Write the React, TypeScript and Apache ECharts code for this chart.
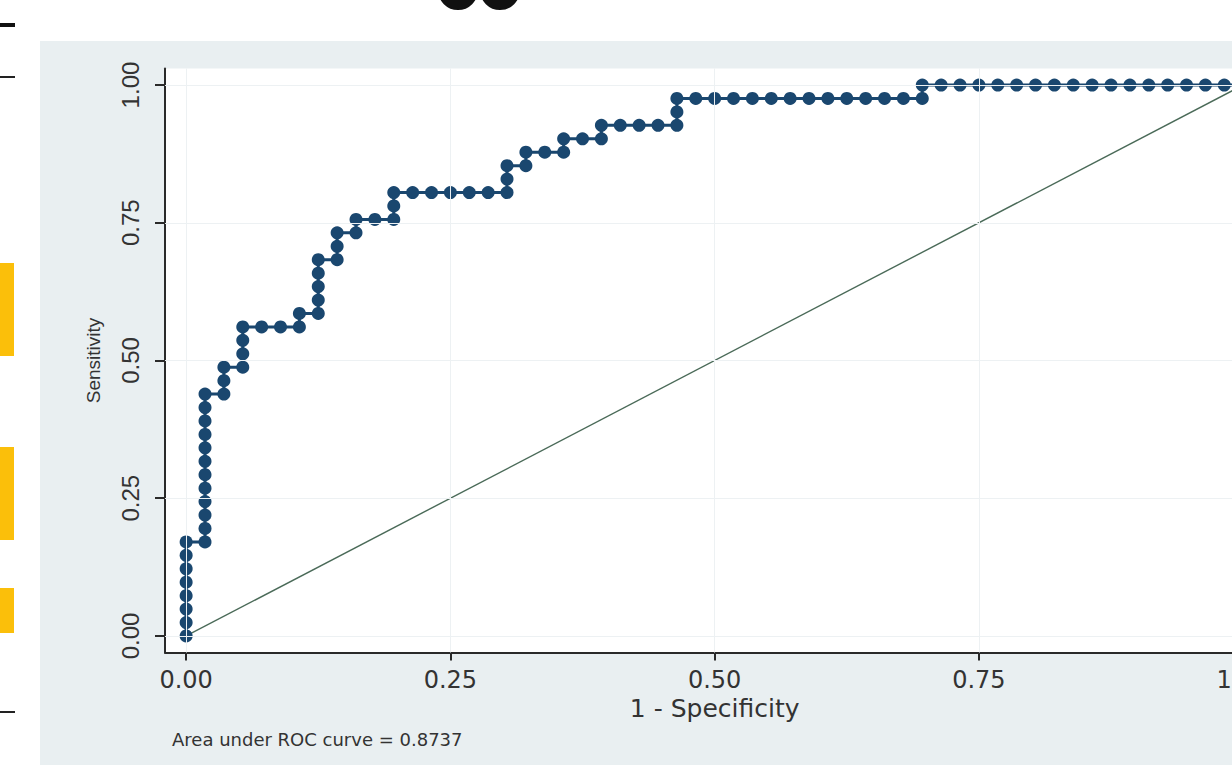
import React, { useEffect, useRef } from "react";
import * as echarts from "echarts";

// ROC step points: counts of false positives (of 56 negatives)
// and true positives (of 41 positives) at each cut-off marker.
const nNegatives = 56;
const nPositives = 41;

const falsePositiveCounts = [
  0, 0, 0, 0, 0, 0, 0, 0,
  1, 1, 1, 1, 1, 1, 1, 1, 1, 1, 1, 1,
  2, 2, 2,
  3, 3, 3, 3,
  4, 5, 6,
  6,
  7, 7, 7, 7, 7,
  8, 8, 8,
  9, 9,
  10, 11,
  11, 11,
  12, 13, 14, 15, 16, 17,
  17, 17,
  18, 18,
  19, 20,
  20,
  21, 22,
  22,
  23, 24, 25, 26,
  26, 26,
  27, 28, 29, 30, 31, 32, 33, 34, 35, 36, 37, 38, 39,
  39,
  40, 41, 42, 43, 44, 45, 46, 47, 48, 49, 50, 51, 52, 53, 54, 55, 56,
];

const truePositiveCounts = [
  0, 1, 2, 3, 4, 5, 6, 7,
  7, 8, 9, 10, 11, 12, 13, 14, 15, 16, 17, 18,
  18, 19, 20,
  20, 21, 22, 23,
  23, 23, 23,
  24,
  24, 25, 26, 27, 28,
  28, 29, 30,
  30, 31,
  31, 31,
  32, 33,
  33, 33, 33, 33, 33, 33,
  34, 35,
  35, 36,
  36, 36,
  37,
  37, 37,
  38,
  38, 38, 38, 38,
  39, 40,
  40, 40, 40, 40, 40, 40, 40, 40, 40, 40, 40, 40, 40,
  41,
  41, 41, 41, 41, 41, 41, 41, 41, 41, 41, 41, 41, 41, 41, 41, 41, 41,
];

const referenceLine = [
  [0, 0],
  [1, 1],
];

const xTicks = [0, 0.25, 0.5, 0.75, 1];
const yTicks = [0, 0.25, 0.5, 0.75, 1];

const xTitle = "1 - Specificity";
const yTitle = "Sensitivity";
const aucNote = "Area under ROC curve = 0.8737";

const AXIS_COLOR = "#2a2a2a";
const TEXT_COLOR = "#333333";
const NAVY = "#1a476f";

export default function App() {
  const ref = useRef<HTMLDivElement>(null);

  useEffect(() => {
    if (!ref.current) return;
    const chart = echarts.init(ref.current, null, { renderer: "svg" });
    const rocData = falsePositiveCounts.map((fp, k) => [
      fp / nNegatives,
      truePositiveCounts[k] / nPositives,
    ]);

    chart.setOption({
      animation: false,
      backgroundColor: "transparent",
      grid: {
        left: 165,
        top: 68.5,
        width: 1099.3,
        height: 584,
        show: true,
        backgroundColor: "#ffffff",
        borderWidth: 0,
      },
      xAxis: {
        type: "value",
        min: -0.02,
        max: 1.02,
        axisLine: { show: true, onZero: false, lineStyle: { color: AXIS_COLOR, width: 2 } },
        axisTick: {
          show: true,
          length: 8,
          customValues: xTicks,
          lineStyle: { color: AXIS_COLOR, width: 2 },
        },
        axisLabel: {
          customValues: xTicks,
          formatter: (v: number) => v.toFixed(2),
          margin: 15,
          fontFamily: "DejaVu Sans",
          fontSize: 24,
          color: TEXT_COLOR,
        },
        splitLine: { show: false },
        name: xTitle,
        nameLocation: "middle",
        nameGap: 43,
        nameTextStyle: { fontFamily: "DejaVu Sans", fontSize: 25, color: TEXT_COLOR },
      },
      yAxis: {
        type: "value",
        min: -0.03,
        max: 1.03,
        axisLine: { show: true, onZero: false, lineStyle: { color: AXIS_COLOR, width: 2 } },
        axisTick: {
          show: true,
          length: 10,
          customValues: yTicks,
          lineStyle: { color: AXIS_COLOR, width: 2 },
        },
        axisLabel: {
          customValues: yTicks,
          formatter: (v: number) => v.toFixed(2),
          rotate: 90,
          margin: 23,
          fontFamily: "Liberation Sans",
          fontSize: 24,
          color: TEXT_COLOR,
        },
        splitLine: { show: false },
        name: yTitle,
        nameLocation: "middle",
        nameGap: 62,
        nameTextStyle: { fontFamily: "Liberation Sans", fontSize: 19, color: TEXT_COLOR },
      },
      graphic: [
        { type: "rect", shape: { x: 0, y: 263, width: 14, height: 93 }, style: { fill: "#fbbf0a" } },
        { type: "rect", shape: { x: 0, y: 447, width: 14, height: 93 }, style: { fill: "#fbbf0a" } },
        { type: "rect", shape: { x: 0, y: 588, width: 14, height: 45 }, style: { fill: "#fbbf0a" } },
        { type: "line", shape: { x1: 0, y1: 25, x2: 15, y2: 25 }, style: { stroke: "#111", lineWidth: 4 } },
        { type: "line", shape: { x1: 0, y1: 77, x2: 15, y2: 77 }, style: { stroke: "#222", lineWidth: 2 } },
        { type: "line", shape: { x1: 0, y1: 712, x2: 15, y2: 712 }, style: { stroke: "#222", lineWidth: 2 } },
        {
          type: "arc",
          shape: { cx: 458, cy: -10, r: 14, startAngle: 0, endAngle: Math.PI },
          style: { stroke: "#111", lineWidth: 12, fill: "none" },
        },
        {
          type: "arc",
          shape: { cx: 500, cy: -10, r: 14, startAngle: 0, endAngle: Math.PI },
          style: { stroke: "#111", lineWidth: 12, fill: "none" },
        },
        {
          type: "text",
          left: 172,
          top: 730,
          style: { text: aucNote, font: "18px 'DejaVu Sans'", fill: TEXT_COLOR },
        },
      ],
      series: [
        {
          type: "line",
          data: referenceLine,
          symbol: "none",
          silent: true,
          z: 2,
          lineStyle: { color: "#4a6a58", width: 1.4 },
          markLine: {
            silent: true,
            symbol: "none",
            label: { show: false },
            lineStyle: { color: "#edf1f3", width: 1, type: "solid" },
            data: [
              ...xTicks.map((v) => ({ xAxis: v })),
              ...yTicks.map((v) => ({ yAxis: v })),
            ],
          },
        },
        {
          type: "line",
          data: rocData,
          symbol: "circle",
          symbolSize: 13,
          z: 3,
          lineStyle: { color: NAVY, width: 3 },
          itemStyle: { color: NAVY },
        },
      ],
    });

    return () => chart.dispose();
  }, []);

  return (
    <div
      style={{
        position: "fixed",
        left: 0,
        top: 0,
        width: 1232,
        height: 765,
        overflow: "hidden",
        background: "#ffffff",
      }}
    >
      <div
        style={{
          position: "absolute",
          left: 40,
          top: 41,
          width: 1300,
          height: 800,
          background: "#e9eff1",
        }}
      />
      <div ref={ref} style={{ position: "absolute", left: 0, top: 0, width: 1300, height: 765 }} />
    </div>
  );
}
